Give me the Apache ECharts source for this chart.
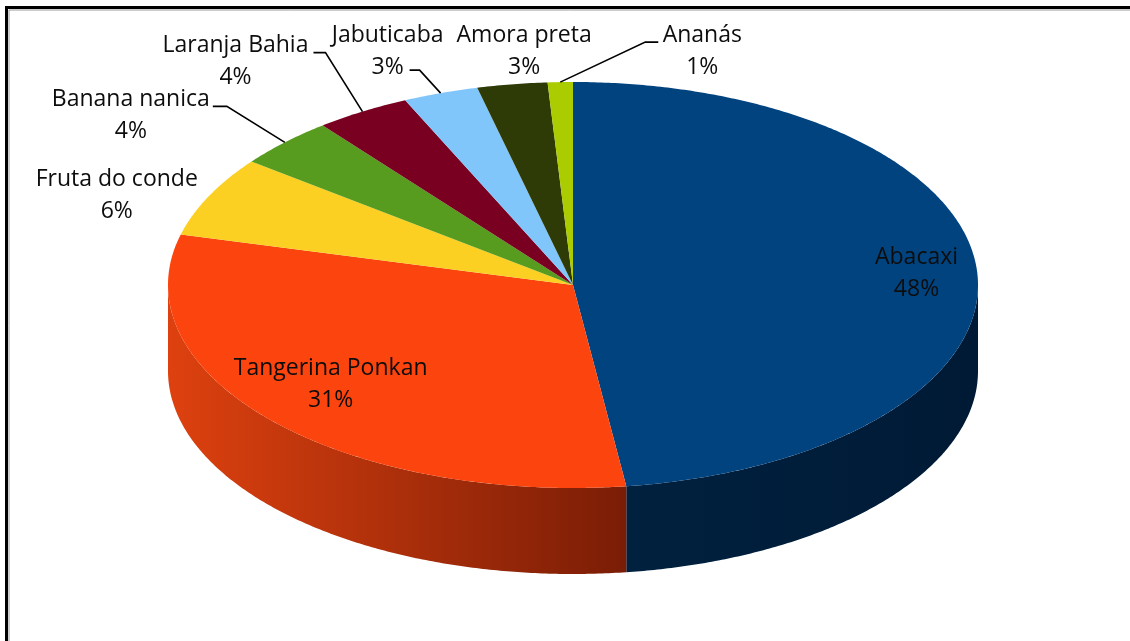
<!DOCTYPE html>
<html>
<head>
<meta charset="utf-8">
<script src="https://cdn.jsdelivr.net/npm/echarts@6/dist/echarts.min.js"></script>
<style>
  html, body { margin: 0; padding: 0; background: #fff; }
  #chart { width: 1130px; height: 641px; }
</style>
</head>
<body>
<div id="chart"></div>
<script>
const fruits = ['Abacaxi', 'Tangerina Ponkan', 'Fruta do conde', 'Banana nanica', 'Laranja Bahia', 'Jabuticaba', 'Amora preta', 'Ananás']
const shares = [47.9, 31.1, 6.4, 4.0, 3.8, 3.0, 2.8, 1.0]

const topColors = ['#00437f', '#fc440e', '#fcd022', '#579c1f', '#7a0022', '#80c6fb', '#2e3b06', '#abcc00']
const sideColors = [
  ['#00213f', '#001a35'], ['#de410f', '#7a1d06'], ['#c9a51a', '#9c8012'], ['#447c18', '#2f5710'],
  ['#5e001a', '#430012'], ['#66a0cb', '#4d7a9c'], ['#222c04', '#181f02'], ['#88a300', '#667a00'],
]
// where each label sits: r = fraction of radius on the slice's mid angle, dx/dy shift of the text centre,
// leader = [elbow dx, elbow dy, horizontal run] measured from the slice rim
const labelPlace = [
  { r: 0.85, dx: 0, dy: 0 },
  { r: 0.8, dx: 0, dy: -8 },
  { r: 1, dx: -92, dy: -1 },
  { r: 1, dx: -154, dy: -27, leader: [-58, -36, -14] },
  { r: 1, dx: -127, dy: -50, leader: [-37, -59, -12] },
  { r: 1, dx: -53, dy: -42, leader: [-21, -23, -10] },
  { r: 1, dx: 12, dy: -33 },
  { r: 1, dx: 142, dy: -31, leader: [85, -40, 13] },
]

const cx = 573, cy = 285, rx = 405, ry = 203, depth = 86
const total = shares.reduce((a, b) => a + b, 0)
let acc = 0
const slices = shares.map((v, i) => {
  const start = acc
  acc += v
  return { name: fruits[i], value: [start, acc, v] }
})

function pt(t, r, dy) {
  return [cx + rx * r * Math.sin(t), cy - ry * r * Math.cos(t) + (dy || 0)]
}
function arc(a1, a2, dy) {
  const pts = []
  const n = Math.max(2, Math.ceil((a2 - a1) / (Math.PI / 360)))
  for (let k = 0; k <= n; k++) pts.push(pt(a1 + (a2 - a1) * k / n, 1, dy))
  return pts
}

function renderItem(params, api) {
  const i = params.dataIndex
  const a1 = api.value(0) / total * Math.PI * 2
  const a2 = api.value(1) / total * Math.PI * 2
  const children = []

  // front wall, only the part facing us
  const s = Math.max(a1, Math.PI / 2)
  const e = Math.min(a2, Math.PI * 1.5)
  if (e > s) {
    const pts = arc(s, e, 0).concat(arc(s, e, depth).reverse())
    const xs = pts.map((p) => p[0])
    const x0 = Math.min(...xs), x1 = Math.max(...xs)
    children.push({
      type: 'polygon',
      z2: 5,
      shape: { points: pts },
      style: {
        fill: new echarts.graphic.LinearGradient(x0, 0, x1, 0, [
          { offset: 0, color: sideColors[i][0] },
          { offset: 1, color: sideColors[i][1] },
        ], true),
      },
    })
  }

  children.push({
    type: 'polygon',
    z2: 10,
    shape: { points: [[cx, cy]].concat(arc(a1, a2, 0)) },
    style: { fill: topColors[i] },
  })

  const lp = labelPlace[i]
  const mid = (a1 + a2) / 2
  const anchor = pt(mid, lp.r, 0)
  children.push({
    type: 'text',
    z2: 30,
    x: anchor[0] + lp.dx,
    y: anchor[1] + lp.dy,
    style: {
      text: fruits[i] + '\n' + Math.round(api.value(2)) + '%',
      fill: '#0d0d0d',
      fontFamily: 'Open Sans',
      fontSize: 23,
      lineHeight: 32,
      align: 'center',
      verticalAlign: 'middle',
    },
  })
  if (lp.leader) {
    const elbow = [anchor[0] + lp.leader[0], anchor[1] + lp.leader[1]]
    children.push({
      type: 'polyline',
      z2: 30,
      shape: { points: [anchor, elbow, [elbow[0] + lp.leader[2], elbow[1]]] },
      style: { stroke: '#000', lineWidth: 1.6, fill: null },
    })
  }
  return { type: 'group', children }
}

const chart = echarts.init(document.getElementById('chart'))
chart.setOption({
  backgroundColor: '#fff',
  animation: false,
  graphic: [
    { type: 'polyline', shape: { points: [[6.5, 641], [6.5, 7.5], [1130, 7.5]] }, style: { stroke: '#000', lineWidth: 3, fill: null } },
    { type: 'polyline', shape: { points: [[9, 641], [9, 10], [1130, 10]] }, style: { stroke: '#9a9a9a', lineWidth: 1, fill: null } },
  ],
  series: [
    {
      type: 'custom',
      coordinateSystem: 'none',
      renderItem,
      data: slices,
    },
  ],
})
window.addEventListener('resize', () => chart.resize())
</script>
</body>
</html>
